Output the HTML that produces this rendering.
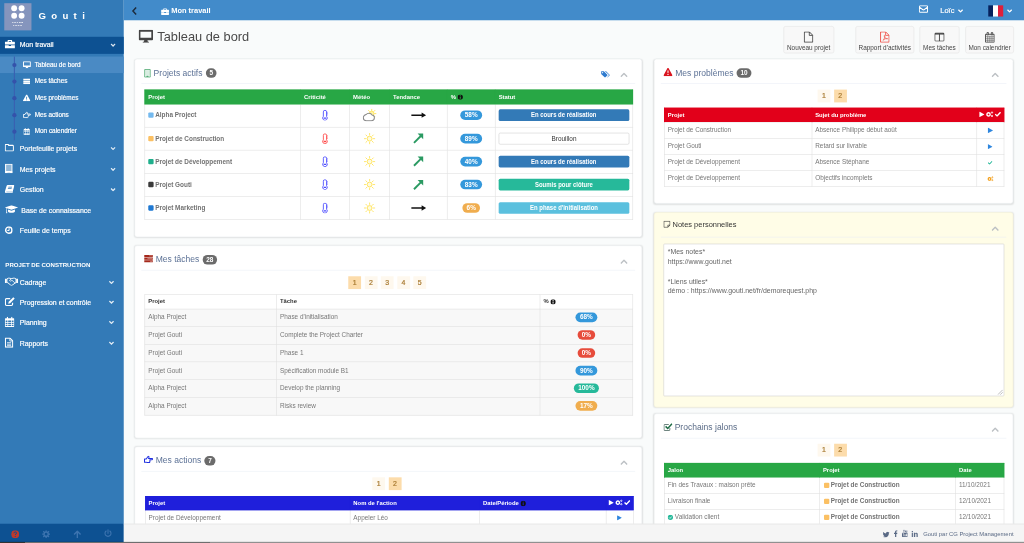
<!DOCTYPE html><html><head><meta charset="utf-8"><title>Gouti</title><style>
*{box-sizing:border-box;margin:0;padding:0}
html,body{width:1024px;height:543px;overflow:hidden;background:#f9fbfb}
body{font-family:"Liberation Sans",sans-serif;}
#root{filter:opacity(1);position:absolute;left:0;top:0;width:1920px;height:1018px;transform:scale(0.533333);transform-origin:0 0;font-size:13px;color:#555;overflow:hidden;background:#f9fbfb}
.ic{display:inline-block;vertical-align:middle;flex:none}
.abs{position:absolute}
#side{position:absolute;left:0;top:0;width:232px;height:1018px;background:#337ab7;color:#fff;-webkit-text-stroke:.35px}
#logo{position:absolute;left:8px;top:6px;width:51px;height:51px;background:#8595bd}
#logo i{position:absolute;width:11px;height:11px;border-radius:50%;background:#fff}
#brand{position:absolute;left:72px;top:16px;font-size:18px;font-weight:bold;letter-spacing:10px;color:#fff;line-height:26px}
.mi{position:absolute;left:0;width:232px;height:32px;font-size:13px;color:#fff;line-height:32px}
.mi .t{position:absolute;left:37px;top:0;white-space:nowrap}
.mi .i{position:absolute;left:9px;top:-2px;height:32px;display:flex;align-items:center}
.mi .c{position:absolute;left:207px;top:0;height:32px;display:flex;align-items:center;color:rgba(255,255,255,.85)}
.mi.act{background:#0d5192}
.si{position:absolute;left:0;width:232px;height:31px;font-size:12px;color:#fff;line-height:31px}
.si .t{position:absolute;left:65px;white-space:nowrap}
.si .i{position:absolute;left:42px;top:0;width:16px;height:31px;display:flex;align-items:center;justify-content:center}
.si .d{position:absolute;left:23px;top:12px;width:8px;height:8px;border-radius:50%;background:#3452aa;z-index:3}
.si.act{background:#4a8ac4}
#vline{position:absolute;left:26.300px;top:106px;width:1.300px;height:157px;background:#3a5fb0;z-index:2}
#sfoot{position:absolute;left:0;top:981.500px;width:232px;height:37px;background:#0d5192}
#top{position:absolute;left:232px;top:0;width:1688px;height:38px;background:#428bca;color:#fff;-webkit-text-stroke:.3px}
#title{position:absolute;left:260px;top:52px;height:32px;font-size:24px;color:#4a4a4a;line-height:32px;white-space:nowrap;display:flex;align-items:center}
.btn{position:absolute;top:49.300px;height:51px;border:1px solid #e2e2e2;border-radius:4px;background:#f8f8f8;font-size:12px;color:#444;text-align:center;white-space:nowrap}
.btn .bi{position:absolute;left:0;right:0;top:8.500px;height:22px;display:flex;justify-content:center;align-items:center}
.btn .bt{position:absolute;left:0;right:0;top:31.300px;line-height:16px}
.panel{position:absolute;background:#fff;border:1px solid #e4e8ea;border-radius:5px;box-shadow:0 1px 3px rgba(0,0,0,.10)}
.ph{position:absolute;left:12px;right:12px;top:0;height:46px;border-bottom:1px solid #e8edf5;font-size:16px;color:#5d7296;white-space:nowrap}
.ph .pt{position:absolute;left:5px;top:8px;height:36px;display:flex;align-items:center}
.badge{display:inline-block;background:#6b6b6b;color:#fff;font-size:12px;font-weight:bold;border-radius:10px;padding:0 7px;height:18px;line-height:18px;margin-left:6px}
.ph .cu{position:absolute;right:14px;top:20px;color:#bcc0c4}
table{--hh:27px;background-repeat:no-repeat !important;background-origin:border-box !important;border-collapse:collapse;position:absolute;table-layout:fixed;font-size:12px;color:#777}
td,th{border:1px solid #ddd;padding:0 8px 1px 6px;text-align:left;white-space:nowrap;overflow:hidden;vertical-align:middle}
th{font-size:11px;font-weight:bold;color:#fff}
th,.pb,.st,.badge,.bd,#brand{-webkit-text-stroke:0}
.bd{font-weight:bold;color:#727272}
.g{background:linear-gradient(#28a745 0 var(--hh),transparent var(--hh))}.g th{border-color:#28a745}
.r{background:linear-gradient(#e2001a 0 var(--hh),transparent var(--hh))}.r th{border-color:#e2001a;border-bottom-color:#e6e6e6}
.b{background:linear-gradient(#1f1fdb 0 var(--hh),transparent var(--hh))}.b th{border-color:#1f1fdb}
.w{background:linear-gradient(#fff 0 var(--hh),#f8f8f8 var(--hh))}.w th{color:#333;border-color:#ddd}
.sq{display:inline-block;width:10px;height:10px;vertical-align:-1px;margin-right:3px;border-radius:2px}
.pb{display:inline-block;height:18px;line-height:18px;border-radius:10px;color:#fff;font-size:12px;font-weight:bold;padding:0 8px;text-align:center}
.st{display:block;height:22px;line-height:23.500px;border-radius:3px;color:#fff;font-size:11px;font-weight:bold;text-align:center;margin:0 -2px 0 0}
.pg{position:absolute;height:24px;display:flex;gap:6.500px}
.pg span{display:block;width:24px;height:24px;line-height:24px;text-align:center;font-size:13px;color:#a87a30;-webkit-text-stroke:.4px;background:#fef8ee}
.pg span.on{background:#fcdcab}
.c{text-align:center;padding:0 0 1px 0}
.c>.ic{display:block;margin:0 auto}
#foot{position:absolute;left:232px;top:981.500px;width:1688px;height:37px;background:#f5f5f5;border-top:1px solid #ddd;font-size:11px;color:#5a6a85}
</style></head><body><div id="root">
<div id="side">
<div id="logo"><i style="left:13px;top:4px"></i><i style="left:27px;top:4px"></i><i style="left:13px;top:17.500px"></i><i style="left:27px;top:17.500px"></i><div style="position:absolute;left:0;width:51px;top:33px;font-size:4px;line-height:6px;letter-spacing:1.600px;color:#fff;text-align:center;font-weight:bold;opacity:.8">VOTRE<br>LOGO</div></div>
<div id="brand">Gouti</div>
<div class="mi act" style="top:68.5px"><span class="i"><svg class="ic" viewBox="0 0 18 16" width="19" height="17" ><path fill="currentColor" fill-rule="evenodd" d="M6 1h6a1 1 0 0 1 1 1v2h4a1 1 0 0 1 1 1v4H0V5a1 1 0 0 1 1-1h4V2a1 1 0 0 1 1-1zm1 1.5V4h4V2.500zM0 10h7v1.500h4V10h7v5a1 1 0 0 1-1 1H1a1 1 0 0 1-1-1z"/></svg></span><span class="t" style="left:37px">Mon travail</span><span class="c" style="left:207px"><svg class="ic" viewBox="0 0 11 8" width="10" height="7" ><path fill="none" stroke="currentColor" stroke-width="2.700" d="M1 1.500l4.500 4.500 4.500-4.500"/></svg></span></div>
<div id="vline"></div>
<div class="si act" style="top:106px"><span class="d"></span><span class="i"><svg class="ic" viewBox="0 0 18 16" width="15" height="13" ><path fill="currentColor" fill-rule="evenodd" d="M1.300 0h15.400a1.300 1.300 0 0 1 1.300 1.300v10.400a1.300 1.300 0 0 1-1.300 1.300H11l.5 1.800h1.300V16H5.200v-1.200h1.300L7 13H1.300A1.300 1.300 0 0 1 0 11.700V1.300A1.300 1.300 0 0 1 1.300 0zm.900 2.200v7.600h13.600V2.200z"/></svg></span><span class="t">Tableau de bord</span></div>
<div class="si" style="top:137.2px"><span class="d"></span><span class="i"><svg class="ic" viewBox="0 0 16 14" width="14" height="11" ><path fill="currentColor" d="M0 0h16v4H0zM0 5h16v4H0zM0 10h16v4H0z"/><path fill="#fff" fill-opacity=".45" d="M9 1h6v1.500H9zM6 6.200h9v1.500H6zM11 11.400h4v1.500h-4z"/></svg></span><span class="t">Mes tâches</span></div>
<div class="si" style="top:168.4px"><span class="d"></span><span class="i"><svg class="ic" viewBox="0 0 16 15" width="14" height="13" ><path fill="currentColor" fill-rule="evenodd" d="M8 0.300c.5 0 .9.300 1.100.700l6.700 12.200c.4.800-.1 1.800-1.100 1.800H1.300c-1 0-1.500-1-1.100-1.800L6.900 1C7.100.600 7.500.300 8 .300zM7 5l.3 4.800h1.400L9 5zm0 6v1.800h2V11z"/></svg></span><span class="t">Mes problèmes</span></div>
<div class="si" style="top:199.6px"><span class="d"></span><span class="i"><svg class="ic" viewBox="0 0 18 15" width="15" height="13" ><path fill="none" stroke="currentColor" stroke-width="2" stroke-linejoin="round" d="M1 6.500h3.500l3-4.500c.4-.6 1.300-.9 1.900-.5.700.4.600 1.300.400 2l-.8 2H16c.7 0 1.200.6 1.200 1.200s-.5 1.300-1.200 1.300h-4.500c.9.300.9 1.700 0 2 .7.400.6 1.700-.2 1.900.4.600.1 1.600-.8 1.600H6.500c-.8 0-1.300-.5-2-.5H1z"/></svg></span><span class="t">Mes actions</span></div>
<div class="si" style="top:230.8px"><span class="d"></span><span class="i"><svg class="ic" viewBox="0 0 14 15" width="12" height="13" ><path fill="currentColor" fill-rule="evenodd" d="M3 0h1.600v2h4.800V0H11v2h2a1 1 0 0 1 1 1v11a1 1 0 0 1-1 1H1a1 1 0 0 1-1-1V3a1 1 0 0 1 1-1h2zM1.200 5.500v2.200h2.600V5.500zm3.700 0v2.200h4.200V5.500zm5.300 0v2.200h2.600V5.500zm-9 3.200V11h2.600V8.700zm3.700 0V11h4.200V8.700zm5.300 0V11h2.600V8.700zm-9 3.300v1.800h2.600V12zm3.700 0v1.800h4.200V12zm5.300 0v1.800h2.600V12z"/></svg></span><span class="t">Mon calendrier</span></div>
<div class="mi" style="top:263px"><span class="i"><svg class="ic" viewBox="0 0 17 14" width="17" height="14" ><path fill="none" stroke="currentColor" stroke-width="2" stroke-linejoin="round" d="M.8 2.200c0-.8.600-1.400 1.400-1.400h3.600c.8 0 1.400.6 1.400 1.400v.4h7.600c.8 0 1.400.6 1.400 1.400v7.800c0 .8-.6 1.400-1.400 1.400H2.200c-.8 0-1.400-.6-1.400-1.400z"/></svg></span><span class="t" style="left:37px">Portefeuille projets</span><span class="c" style="left:207px"><svg class="ic" viewBox="0 0 11 8" width="10" height="7" ><path fill="none" stroke="currentColor" stroke-width="2.700" d="M1 1.500l4.500 4.500 4.500-4.500"/></svg></span></div>
<div class="mi" style="top:302px"><span class="i"><svg class="ic" viewBox="0 0 15 18" width="15" height="18" ><path fill="currentColor" fill-opacity=".45" stroke="currentColor" stroke-width="2" d="M1.500 1h12v16h-12z"/><path fill="currentColor" d="M1 13.500h13V17.500h-4v-2H5v2H1z"/></svg></span><span class="t" style="left:37px">Mes projets</span><span class="c" style="left:207px"><svg class="ic" viewBox="0 0 11 8" width="10" height="7" ><path fill="none" stroke="currentColor" stroke-width="2.700" d="M1 1.500l4.500 4.500 4.500-4.500"/></svg></span></div>
<div class="mi" style="top:340px"><span class="i"><svg class="ic" viewBox="0 0 18 15" width="18" height="15" ><path fill="currentColor" d="M5.500 0H17c.7 0 1.100.6.900 1.300L15 11.500c-.2.700-.9 1.200-1.600 1.200H3.200c-.5 0-.6.900 0 .9h10.600l.9-1.500c.4 0 .5.400.4.700l-.7 1.600c-.2.400-.6.600-1 .6H2.500c-1.800 0-2.700-1.600-2.300-3L3.300 1.600C3.600.600 4.500 0 5.500 0z"/><path fill="#337ab7" d="M6.800 3.200h7l-.4 1.300h-7zM6 6h7l-.4 1.300h-7z"/></svg></span><span class="t" style="left:37px">Gestion</span><span class="c" style="left:207px"><svg class="ic" viewBox="0 0 11 8" width="10" height="7" ><path fill="none" stroke="currentColor" stroke-width="2.700" d="M1 1.500l4.500 4.500 4.500-4.500"/></svg></span></div>
<div class="mi" style="top:379px"><span class="i"><svg class="ic" viewBox="0 0 25 16" width="25" height="16" ><path fill="currentColor" d="M12.500 0L25 4.200 12.500 8.400 4 5.500v3.800c.5.300.5 1 .1 1.300l.6 4.400H2.400L3 10.600c-.5-.3-.4-1 0-1.300V5.200L0 4.200z"/><path fill="currentColor" d="M6 8l6.500 2.200L19 8v3.500c0 1.500-3 2.600-6.500 2.600S6 13 6 11.500z"/></svg></span><span class="t" style="left:40px">Base de connaissance</span></div>
<div class="mi" style="top:417px"><span class="i"><svg class="ic" viewBox="0 0 16 16" width="15" height="15" ><circle cx="8" cy="8" r="6.300" fill="none" stroke="currentColor" stroke-width="2.800"/><path fill="none" stroke="currentColor" stroke-width="2" d="M8.600 4v4.800H5"/></svg></span><span class="t" style="left:37px">Feuille de temps</span></div>
<div class="abs" style="left:10px;top:487px;font-size:11.400px;font-weight:bold;-webkit-text-stroke:0;color:#fff;line-height:18px;white-space:nowrap">PROJET DE CONSTRUCTION</div>
<div class="mi" style="top:514px"><span class="i"><svg class="ic" viewBox="0 0 25 16" width="25" height="16" ><path fill="none" stroke="currentColor" stroke-width="1.800" stroke-linejoin="round" d="M4 3l3.500-1.800 5 1.200 5-1.200L21 3v7l-2 1-5.500 4c-1 .6-2 .2-2.500-.5L5.500 10 4 10z"/><path fill="none" stroke="currentColor" stroke-width="1.500" d="M12.500 2.500L9 5.500c0 1.500 2 2 3 1l1.500-1 5.500 5"/><path fill="currentColor" d="M0 2.500h3.600v8.300H0zM21.400 2.500H25v8.300h-3.600z"/></svg></span><span class="t" style="left:37px">Cadrage</span><span class="c" style="left:203.5px"><svg class="ic" viewBox="0 0 11 8" width="10" height="7" ><path fill="none" stroke="currentColor" stroke-width="2.700" d="M1 1.500l4.500 4.500 4.500-4.500"/></svg></span></div>
<div class="mi" style="top:551px"><span class="i"><svg class="ic" viewBox="0 0 17 15" width="19" height="17" ><path fill="none" stroke="currentColor" stroke-width="2" stroke-linejoin="round" d="M13 9.500V12c0 1.100-.9 2-2 2H3c-1.100 0-2-.9-2-2V4.500c0-1.100.9-2 2-2h6"/><path fill="currentColor" d="M14.200 0l2.500 2.500L9 10.200l-3.300.8.800-3.300z"/></svg></span><span class="t" style="left:37px">Progression et contrôle</span><span class="c" style="left:203.5px"><svg class="ic" viewBox="0 0 11 8" width="10" height="7" ><path fill="none" stroke="currentColor" stroke-width="2.700" d="M1 1.500l4.500 4.500 4.500-4.500"/></svg></span></div>
<div class="mi" style="top:589px"><span class="i"><svg class="ic" viewBox="0 0 14 15" width="18" height="19" ><path fill="currentColor" fill-rule="evenodd" d="M3 0h1.600v2h4.800V0H11v2h2a1 1 0 0 1 1 1v11a1 1 0 0 1-1 1H1a1 1 0 0 1-1-1V3a1 1 0 0 1 1-1h2zM1.200 5.500v2.200h2.600V5.500zm3.700 0v2.200h4.200V5.500zm5.300 0v2.200h2.600V5.500zm-9 3.200V11h2.600V8.700zm3.700 0V11h4.200V8.700zm5.300 0V11h2.600V8.700zm-9 3.300v1.800h2.600V12zm3.700 0v1.800h4.200V12zm5.300 0v1.800h2.600V12z"/></svg></span><span class="t" style="left:37px">Planning</span><span class="c" style="left:203.5px"><svg class="ic" viewBox="0 0 11 8" width="10" height="7" ><path fill="none" stroke="currentColor" stroke-width="2.700" d="M1 1.500l4.500 4.500 4.500-4.500"/></svg></span></div>
<div class="mi" style="top:628px"><span class="i"><svg class="ic" viewBox="0 0 14 17" width="16" height="19" ><path fill="none" stroke="currentColor" stroke-width="2" stroke-linejoin="round" d="M.9.900h7.600l4.600 4.600v10.600H.9z"/><path fill="none" stroke="currentColor" stroke-width="1.300" d="M8.300 1v4.800h4.800M3.500 8.500h7M3.500 11h7M3.500 13.500h7"/></svg></span><span class="t" style="left:37px">Rapports</span><span class="c" style="left:203.5px"><svg class="ic" viewBox="0 0 11 8" width="10" height="7" ><path fill="none" stroke="currentColor" stroke-width="2.700" d="M1 1.500l4.500 4.500 4.500-4.500"/></svg></span></div>
<div id="sfoot">
<span class="abs" style="left:21px;top:11px;color:#c0392b"><svg class="ic" viewBox="0 0 16 16" width="15" height="15" ><circle cx="8" cy="8" r="8" fill="currentColor"/><path fill="none" stroke="#0d5192" stroke-width="2" d="M5.300 6.200c0-1.600 1.200-2.600 2.800-2.600 1.500 0 2.700 1 2.700 2.300 0 1.700-2.600 1.800-2.600 3.800"/><circle cx="8.100" cy="12.300" r="1.200" fill="#0d5192"/></svg></span>
<span class="abs" style="left:79px;top:11px;color:#3d74b0"><svg class="ic" viewBox="0 0 16 16" width="15" height="15" ><circle cx="8" cy="8" r="4.300" fill="none" stroke="currentColor" stroke-width="3"/><path stroke="currentColor" stroke-width="2.600" d="M8 0v3M8 13v3M0 8h3M13 8h3M2.300 2.300l2.200 2.200M11.500 11.500l2.200 2.200M2.300 13.700l2.200-2.200M11.500 4.500l2.200-2.200"/></svg></span>
<span class="abs" style="left:137px;top:11px;color:#3d74b0"><svg class="ic" viewBox="0 0 16 16" width="16" height="15" ><path fill="none" stroke="currentColor" stroke-width="2.800" stroke-linejoin="miter" d="M8 16V3M1.500 8.500L8 2l6.500 6.500"/></svg></span>
<span class="abs" style="left:195px;top:10px;color:#3d74b0"><svg class="ic" viewBox="0 0 16 16" width="15" height="16" ><path fill="none" stroke="currentColor" stroke-width="2.200" stroke-linecap="round" d="M8 1v7M4.300 3.300a6 6 0 1 0 7.400 0"/></svg></span>
</div></div>
<div id="top">
<span class="abs" style="left:15px;top:12px;color:#1c2a3a"><svg class="ic" viewBox="0 0 10 16" width="10" height="15" ><path fill="none" stroke="currentColor" stroke-width="2.800" d="M8.500 1L2 8l6.500 7"/></svg></span>
<span class="abs" style="left:70px;top:13px;color:#fff"><svg class="ic" viewBox="0 0 18 16" width="15" height="13" ><path fill="currentColor" fill-rule="evenodd" d="M6 1h6a1 1 0 0 1 1 1v2h4a1 1 0 0 1 1 1v4H0V5a1 1 0 0 1 1-1h4V2a1 1 0 0 1 1-1zm1 1.5V4h4V2.500zM0 10h7v1.500h4V10h7v5a1 1 0 0 1-1 1H1a1 1 0 0 1-1-1z"/></svg></span>
<span class="abs" style="left:89px;top:11.400px;font-size:14px;font-weight:bold;-webkit-text-stroke:0;line-height:19px;white-space:nowrap">Mon travail</span>
<span class="abs" style="left:1491px;top:8px;color:#fff"><svg class="ic" viewBox="0 0 17 14" width="17" height="14" ><path fill="none" stroke="currentColor" stroke-width="1.900" stroke-linejoin="round" d="M.8 2.300c0-.8.700-1.500 1.500-1.500h12.400c.8 0 1.500.7 1.500 1.500v9.400c0 .8-.7 1.500-1.500 1.500H2.300c-.8 0-1.500-.7-1.500-1.500zM1 3.500l5.800 4.300c1 .8 2.400.8 3.400 0L16 3.500"/></svg></span>
<span class="abs" style="left:1531px;top:11px;font-size:14px;line-height:19px;white-space:nowrap">Loïc</span><span class="abs" style="left:1564px;top:11.500px"><svg class="ic" viewBox="0 0 11 8" width="10" height="7" ><path fill="none" stroke="currentColor" stroke-width="2.700" d="M1 1.500l4.500 4.500 4.500-4.500"/></svg></span>
<span class="abs" style="left:1621px;top:10px;width:28px;height:21px;background:linear-gradient(90deg,#06215c 0 33.300%,#fff 33.300% 66.600%,#e01f3a 66.600%)"></span>
<span class="abs" style="left:1656px;top:11.500px"><svg class="ic" viewBox="0 0 11 8" width="10" height="7" ><path fill="none" stroke="currentColor" stroke-width="2.700" d="M1 1.500l4.500 4.500 4.500-4.500"/></svg></span>
</div>
<div id="title"><span style="color:#444;display:flex;margin-right:8px"><svg class="ic" viewBox="0 0 18 16" width="27" height="24" ><path fill="currentColor" fill-rule="evenodd" d="M1.300 0h15.400a1.300 1.300 0 0 1 1.300 1.300v10.400a1.300 1.300 0 0 1-1.300 1.300H11l.5 1.800h1.300V16H5.200v-1.200h1.300L7 13H1.300A1.300 1.300 0 0 1 0 11.700V1.300A1.300 1.300 0 0 1 1.300 0zm.900 2.200v7.600h13.600V2.200z"/></svg></span>Tableau de bord</div>
<div class="btn" style="left:1469px;width:94.5px"><div class="bi"><svg class="ic" viewBox="0 0 16 19" width="18" height="21" ><path fill="none" stroke="#333" stroke-width="1.500" stroke-linejoin="round" d="M.8.800h8.700l5.700 5.700v11.700H.8z"/><path fill="none" stroke="#333" stroke-width="1.300" d="M9.300 1v5.700H15"/></svg></div><div class="bt">Nouveau projet</div></div>
<div class="btn" style="left:1604px;width:110px"><div class="bi"><svg class="ic" viewBox="0 0 16 19" width="18" height="21" ><path fill="none" stroke="#ee4a42" stroke-width="1.500" stroke-linejoin="round" d="M.8.800h8.700l5.700 5.700v11.700H.8z"/><path fill="none" stroke="#ee4a42" stroke-width="1.300" d="M9.300 1v5.700H15"/><path fill="none" stroke="#ee4a42" stroke-width="1.100" d="M5 15c2-2 3.500-5 3-8-.3-1.200-1.500-.5-1 1 .8 2.500 3 4.500 5 4.800 1.200.1 1-1.300-.3-1.200-2.500.3-5 1.500-6.700 3.400z"/></svg></div><div class="bt">Rapport d'activités</div></div>
<div class="btn" style="left:1724px;width:75px"><div class="bi"><svg class="ic" viewBox="0 0 19 17" width="19" height="17" ><path fill="none" stroke="#333" stroke-width="1.600" stroke-linejoin="round" d="M.8 2.500c0-.9.700-1.700 1.700-1.700h14c.9 0 1.700.7 1.700 1.700v12c0 .9-.7 1.700-1.700 1.700h-14c-.9 0-1.700-.7-1.700-1.700z"/><path stroke="#333" stroke-width="1.600" d="M9.500 3v13"/><path stroke="#333" stroke-width="2.600" d="M1 2.500h17"/></svg></div><div class="bt">Mes tâches</div></div>
<div class="btn" style="left:1810px;width:91px"><div class="bi"><svg class="ic" viewBox="0 0 18 20" width="18" height="20" ><path fill="none" stroke="#333" stroke-width="1.600" d="M.8 4.300h16.400v14.900H.8z"/><path fill="none" stroke="#444" stroke-width="1" d="M.8 8h16.400M.8 11.700h16.400M.8 15.400h16.400M5 8v11M9 8v11M13 8v11"/><path fill="#fff" stroke="#333" stroke-width="1.400" stroke-linejoin="round" d="M3.800.8h2.400v4.600H3.800zM11.800.8h2.400v4.600h-2.400z"/></svg></div><div class="bt">Mon calendrier</div></div>
<div class="panel" style="left:252px;top:110px;width:952px;height:335px"><div class="ph" style=""><div class="pt" style="top:8px"><span style="color:#2e9a57;display:flex"><svg class="ic" viewBox="0 0 15 18" width="13" height="17" ><path fill="#fff" stroke="currentColor" stroke-width="1.500" d="M1.500.8h12v16.400h-12z"/><path fill="currentColor" fill-opacity=".18" d="M3.200 2.500h8.600V13H3.200z"/><path fill="currentColor" d="M5.200 14.300h4.600v2.200H5.200z"/></svg></span><span style="margin-left:5px">Projets actifs</span><span class="badge">5</span></div><span class="abs" style="right:47px;top:19px;color:#2e7bcf"><svg class="ic" viewBox="0 0 18 14" width="17" height="13" ><path fill="currentColor" d="M0 .5h5.500l7 7c.5.500.5 1.200 0 1.700l-3.800 3.800c-.5.500-1.200.5-1.700 0L0 6z"/><path fill="currentColor" d="M7.500.5H10l7 7c.5.500.5 1.200 0 1.700L13.200 13c-.4.400-1 .5-1.500.2l3.300-3.500c.7-.7.7-1.800 0-2.500z"/><circle cx="3" cy="3.500" r="1.200" fill="#fff"/></svg></span><span class="cu"><svg class="ic" viewBox="0 0 14 9" width="14" height="9" ><path fill="none" stroke="currentColor" stroke-width="2.600" d="M1 8l6-6 6 6"/></svg></span></div>
<table class="g" style="--hh:26.500px;left:18px;top:57px;width:915px"><colgroup><col style="width:292px"><col style="width:92px"><col style="width:75px"><col style="width:108px"><col style="width:90px"><col style="width:258px"></colgroup>
<tr style="height:26.500px"><th>Projet</th><th>Criticité</th><th>Météo</th><th>Tendance</th><th>% <svg class="ic" viewBox="0 0 10 10" width="10" height="10" ><circle cx="5" cy="5" r="5" fill="#111"/><path stroke="#28a745" stroke-width="1.800" d="M5 4.300v4M5 1.600v1.800"/></svg></th><th>Statut</th></tr>
<tr style="height:43.350px"><td class="bd"><span class="sq" style="background:#74b9ee"></span>Alpha Project</td><td class="c"><svg class="ic" viewBox="0 0 13 20" width="13" height="20" ><path fill="#fff" stroke="#4a4aff" stroke-width="1.600" d="M3.300 3.800a3 3 0 0 1 6 0v8.400a4.300 4.300 0 1 1-6 0z"/><path stroke="#4a4aff" stroke-width="2.400" stroke-linecap="round" d="M4.800 15.300h3"/><path stroke="#4a4aff" stroke-width="1" d="M9.500 4.500h2.200M9.500 7h2.200M9.500 9.500h2.200"/></svg></td><td class="c"><svg class="ic" viewBox="0 0 26 24" width="26" height="24" ><path stroke="#ffe14d" stroke-width="1.600" stroke-linecap="round" d="M17 .6v2.800" transform="rotate(-90 17 9)"/><path stroke="#ffe14d" stroke-width="1.600" stroke-linecap="round" d="M17 .6v2.800" transform="rotate(-45 17 9)"/><path stroke="#ffe14d" stroke-width="1.600" stroke-linecap="round" d="M17 .6v2.800" transform="rotate(0 17 9)"/><path stroke="#ffe14d" stroke-width="1.600" stroke-linecap="round" d="M17 .6v2.800" transform="rotate(45 17 9)"/><path stroke="#ffe14d" stroke-width="1.600" stroke-linecap="round" d="M17 .6v2.800" transform="rotate(90 17 9)"/><path stroke="#ffe14d" stroke-width="1.600" stroke-linecap="round" d="M17 .6v2.800" transform="rotate(135 17 9)"/><circle cx="17" cy="9" r="4.300" fill="#fff4a8" stroke="#ffe14d" stroke-width="1.500"/><path fill="#fff" stroke="#8a8a8a" stroke-width="1.900" d="M6.800 22.300C3.500 22.300 1.200 20 1.200 17c0-3 2.300-5.500 5.300-6.300 1.200-1.700 3.200-2.500 5.400-2.500 2.700 0 4.900 1.400 5.800 3.600 2.700.3 4.300 2.300 4.300 4.900 0 3.100-2.300 5.600-5.600 5.600z"/></svg></td><td class="c"><svg class="ic" viewBox="0 0 28 12" width="28" height="12" ><path stroke="#111" stroke-width="2.800" d="M0 6h21"/><path fill="#111" d="M19.500 1L28 6l-8.500 5z"/></svg></td><td class="c"><span class="pb" style="background:#3498db">58%</span></td><td><span class="st" style="background:#337ab7"><span style="display:inline-block;font-size:12px;transform:scaleX(.93)">En cours de réalisation</span></span></td></tr>
<tr style="height:43.350px"><td class="bd"><span class="sq" style="background:#fbc063"></span>Projet de Construction</td><td class="c"><svg class="ic" viewBox="0 0 13 20" width="13" height="20" ><path fill="#fff" stroke="#ff4444" stroke-width="1.600" d="M3.300 3.800a3 3 0 0 1 6 0v8.400a4.300 4.300 0 1 1-6 0z"/><path stroke="#ff4444" stroke-width="2.400" stroke-linecap="round" d="M4.800 15.300h3"/><path stroke="#ff4444" stroke-width="1" d="M9.500 4.500h2.200M9.500 7h2.200M9.500 9.500h2.200"/></svg></td><td class="c"><svg class="ic" viewBox="0 0 22 22" width="22" height="22" ><circle cx="11" cy="11" r="4.500" fill="#fffbe0" stroke="#ffe14d" stroke-width="1.600"/><path stroke="#ffe14d" stroke-width="1.500" stroke-linecap="round" d="M11 1.200v3" transform="rotate(0 11 11)"/><path stroke="#ffe14d" stroke-width="1.500" stroke-linecap="round" d="M11 1.200v3" transform="rotate(45 11 11)"/><path stroke="#ffe14d" stroke-width="1.500" stroke-linecap="round" d="M11 1.200v3" transform="rotate(90 11 11)"/><path stroke="#ffe14d" stroke-width="1.500" stroke-linecap="round" d="M11 1.200v3" transform="rotate(135 11 11)"/><path stroke="#ffe14d" stroke-width="1.500" stroke-linecap="round" d="M11 1.200v3" transform="rotate(180 11 11)"/><path stroke="#ffe14d" stroke-width="1.500" stroke-linecap="round" d="M11 1.200v3" transform="rotate(225 11 11)"/><path stroke="#ffe14d" stroke-width="1.500" stroke-linecap="round" d="M11 1.200v3" transform="rotate(270 11 11)"/><path stroke="#ffe14d" stroke-width="1.500" stroke-linecap="round" d="M11 1.200v3" transform="rotate(315 11 11)"/></svg></td><td class="c"><svg class="ic" viewBox="0 0 21 21" width="21" height="21" ><path stroke="#2a9a62" stroke-width="3.600" d="M2.200 18.800L15.500 5.500"/><path fill="#2a9a62" d="M9 1.500H19.500V12z"/></svg></td><td class="c"><span class="pb" style="background:#3498db">89%</span></td><td><span class="st" style="background:#fff;border:1px solid #ccc;color:#333;font-weight:normal;font-size:12px;line-height:21.500px">Brouillon</span></td></tr>
<tr style="height:43.350px"><td class="bd"><span class="sq" style="background:#1faf8c"></span>Projet de Développement</td><td class="c"><svg class="ic" viewBox="0 0 13 20" width="13" height="20" ><path fill="#fff" stroke="#4a4aff" stroke-width="1.600" d="M3.300 3.800a3 3 0 0 1 6 0v8.400a4.300 4.300 0 1 1-6 0z"/><path stroke="#4a4aff" stroke-width="2.400" stroke-linecap="round" d="M4.800 15.300h3"/><path stroke="#4a4aff" stroke-width="1" d="M9.500 4.500h2.200M9.500 7h2.200M9.500 9.500h2.200"/></svg></td><td class="c"><svg class="ic" viewBox="0 0 22 22" width="22" height="22" ><circle cx="11" cy="11" r="4.500" fill="#fffbe0" stroke="#ffe14d" stroke-width="1.600"/><path stroke="#ffe14d" stroke-width="1.500" stroke-linecap="round" d="M11 1.200v3" transform="rotate(0 11 11)"/><path stroke="#ffe14d" stroke-width="1.500" stroke-linecap="round" d="M11 1.200v3" transform="rotate(45 11 11)"/><path stroke="#ffe14d" stroke-width="1.500" stroke-linecap="round" d="M11 1.200v3" transform="rotate(90 11 11)"/><path stroke="#ffe14d" stroke-width="1.500" stroke-linecap="round" d="M11 1.200v3" transform="rotate(135 11 11)"/><path stroke="#ffe14d" stroke-width="1.500" stroke-linecap="round" d="M11 1.200v3" transform="rotate(180 11 11)"/><path stroke="#ffe14d" stroke-width="1.500" stroke-linecap="round" d="M11 1.200v3" transform="rotate(225 11 11)"/><path stroke="#ffe14d" stroke-width="1.500" stroke-linecap="round" d="M11 1.200v3" transform="rotate(270 11 11)"/><path stroke="#ffe14d" stroke-width="1.500" stroke-linecap="round" d="M11 1.200v3" transform="rotate(315 11 11)"/></svg></td><td class="c"><svg class="ic" viewBox="0 0 21 21" width="21" height="21" ><path stroke="#2a9a62" stroke-width="3.600" d="M2.200 18.800L15.500 5.500"/><path fill="#2a9a62" d="M9 1.500H19.500V12z"/></svg></td><td class="c"><span class="pb" style="background:#3498db">40%</span></td><td><span class="st" style="background:#337ab7"><span style="display:inline-block;font-size:12px;transform:scaleX(.93)">En cours de réalisation</span></span></td></tr>
<tr style="height:43.350px"><td class="bd"><span class="sq" style="background:#3a3a3a"></span>Projet Gouti</td><td class="c"><svg class="ic" viewBox="0 0 13 20" width="13" height="20" ><path fill="#fff" stroke="#4a4aff" stroke-width="1.600" d="M3.300 3.800a3 3 0 0 1 6 0v8.400a4.300 4.300 0 1 1-6 0z"/><path stroke="#4a4aff" stroke-width="2.400" stroke-linecap="round" d="M4.800 15.300h3"/><path stroke="#4a4aff" stroke-width="1" d="M9.500 4.500h2.200M9.500 7h2.200M9.500 9.500h2.200"/></svg></td><td class="c"><svg class="ic" viewBox="0 0 22 22" width="22" height="22" ><circle cx="11" cy="11" r="4.500" fill="#fffbe0" stroke="#ffe14d" stroke-width="1.600"/><path stroke="#ffe14d" stroke-width="1.500" stroke-linecap="round" d="M11 1.200v3" transform="rotate(0 11 11)"/><path stroke="#ffe14d" stroke-width="1.500" stroke-linecap="round" d="M11 1.200v3" transform="rotate(45 11 11)"/><path stroke="#ffe14d" stroke-width="1.500" stroke-linecap="round" d="M11 1.200v3" transform="rotate(90 11 11)"/><path stroke="#ffe14d" stroke-width="1.500" stroke-linecap="round" d="M11 1.200v3" transform="rotate(135 11 11)"/><path stroke="#ffe14d" stroke-width="1.500" stroke-linecap="round" d="M11 1.200v3" transform="rotate(180 11 11)"/><path stroke="#ffe14d" stroke-width="1.500" stroke-linecap="round" d="M11 1.200v3" transform="rotate(225 11 11)"/><path stroke="#ffe14d" stroke-width="1.500" stroke-linecap="round" d="M11 1.200v3" transform="rotate(270 11 11)"/><path stroke="#ffe14d" stroke-width="1.500" stroke-linecap="round" d="M11 1.200v3" transform="rotate(315 11 11)"/></svg></td><td class="c"><svg class="ic" viewBox="0 0 21 21" width="21" height="21" ><path stroke="#2a9a62" stroke-width="3.600" d="M2.200 18.800L15.500 5.500"/><path fill="#2a9a62" d="M9 1.500H19.500V12z"/></svg></td><td class="c"><span class="pb" style="background:#3498db">83%</span></td><td><span class="st" style="background:#26b99a"><span style="display:inline-block;font-size:12px;transform:scaleX(.93)">Soumis pour clôture</span></span></td></tr>
<tr style="height:43.350px"><td class="bd"><span class="sq" style="background:#1e78d2"></span>Projet Marketing</td><td class="c"><svg class="ic" viewBox="0 0 13 20" width="13" height="20" ><path fill="#fff" stroke="#4a4aff" stroke-width="1.600" d="M3.300 3.800a3 3 0 0 1 6 0v8.400a4.300 4.300 0 1 1-6 0z"/><path stroke="#4a4aff" stroke-width="2.400" stroke-linecap="round" d="M4.800 15.300h3"/><path stroke="#4a4aff" stroke-width="1" d="M9.500 4.500h2.200M9.500 7h2.200M9.500 9.500h2.200"/></svg></td><td class="c"><svg class="ic" viewBox="0 0 22 22" width="22" height="22" ><circle cx="11" cy="11" r="4.500" fill="#fffbe0" stroke="#ffe14d" stroke-width="1.600"/><path stroke="#ffe14d" stroke-width="1.500" stroke-linecap="round" d="M11 1.200v3" transform="rotate(0 11 11)"/><path stroke="#ffe14d" stroke-width="1.500" stroke-linecap="round" d="M11 1.200v3" transform="rotate(45 11 11)"/><path stroke="#ffe14d" stroke-width="1.500" stroke-linecap="round" d="M11 1.200v3" transform="rotate(90 11 11)"/><path stroke="#ffe14d" stroke-width="1.500" stroke-linecap="round" d="M11 1.200v3" transform="rotate(135 11 11)"/><path stroke="#ffe14d" stroke-width="1.500" stroke-linecap="round" d="M11 1.200v3" transform="rotate(180 11 11)"/><path stroke="#ffe14d" stroke-width="1.500" stroke-linecap="round" d="M11 1.200v3" transform="rotate(225 11 11)"/><path stroke="#ffe14d" stroke-width="1.500" stroke-linecap="round" d="M11 1.200v3" transform="rotate(270 11 11)"/><path stroke="#ffe14d" stroke-width="1.500" stroke-linecap="round" d="M11 1.200v3" transform="rotate(315 11 11)"/></svg></td><td class="c"><svg class="ic" viewBox="0 0 28 12" width="28" height="12" ><path stroke="#111" stroke-width="2.800" d="M0 6h21"/><path fill="#111" d="M19.500 1L28 6l-8.500 5z"/></svg></td><td class="c"><span class="pb" style="background:#f0ad4e">6%</span></td><td><span class="st" style="background:#5bc0de"><span style="display:inline-block;font-size:12px;transform:scaleX(.93)">En phase d'initialisation</span></span></td></tr>
</table>
</div>
<div class="panel" style="left:252px;top:460px;width:952px;height:362px"><div class="ph" style=""><div class="pt" style="top:8px"><span style="color:#a5281b;display:flex;margin-top:-4px"><svg class="ic" viewBox="0 0 16 14" width="17" height="14" ><path fill="currentColor" d="M0 0h16v4H0zM0 5h16v4H0zM0 10h16v4H0z"/><path fill="#fff" fill-opacity=".45" d="M9 1h6v1.500H9zM6 6.200h9v1.500H6zM11 11.400h4v1.500h-4z"/></svg></span><span style="margin-left:5px">Mes tâches</span><span class="badge">28</span></div><span class="cu"><svg class="ic" viewBox="0 0 14 9" width="14" height="9" ><path fill="none" stroke="currentColor" stroke-width="2.600" d="M1 8l6-6 6 6"/></svg></span></div>
<div class="pg" style="left:400px;top:57px"><span class="on">1</span><span class="">2</span><span class="">3</span><span class="">4</span><span class="">5</span></div>
<table class="w" style="left:18px;top:90.700px;width:915px"><colgroup><col style="width:247px"><col style="width:494px"><col style="width:174px"></colgroup>
<tr style="height:27px"><th>Projet</th><th>Tâche</th><th>% <svg class="ic" viewBox="0 0 10 10" width="10" height="10" ><circle cx="5" cy="5" r="5" fill="#111"/><path stroke="#fff" stroke-width="1.800" d="M5 4.300v4M5 1.600v1.800"/></svg></th></tr>
<tr style="height:33.200px"><td>Alpha Project</td><td>Phase d'initialisation</td><td class="c"><span class="pb" style="background:#3498db">68%</span></td></tr>
<tr style="height:33.200px"><td>Projet Gouti</td><td>Complete the Project Charter</td><td class="c"><span class="pb" style="background:#e74c3c">0%</span></td></tr>
<tr style="height:33.200px"><td>Projet Gouti</td><td>Phase 1</td><td class="c"><span class="pb" style="background:#e74c3c">0%</span></td></tr>
<tr style="height:33.200px"><td>Projet Gouti</td><td>Spécification module B1</td><td class="c"><span class="pb" style="background:#3498db">90%</span></td></tr>
<tr style="height:33.200px"><td>Alpha Project</td><td>Develop the planning</td><td class="c"><span class="pb" style="background:#26b99a">100%</span></td></tr>
<tr style="height:33.200px"><td>Alpha Project</td><td>Risks review</td><td class="c"><span class="pb" style="background:#f0ad4e">17%</span></td></tr>
</table>
</div>
<div class="panel" style="left:252px;top:837px;width:952px;height:300px"><div class="ph" style=""><div class="pt" style="top:7.5px"><span style="color:#2030e0;display:flex;margin-top:-4px"><svg class="ic" viewBox="0 0 18 15" width="17" height="15" ><path fill="none" stroke="currentColor" stroke-width="2" stroke-linejoin="round" d="M1 6.500h3.500l3-4.500c.4-.6 1.300-.9 1.900-.5.700.4.600 1.300.400 2l-.8 2H16c.7 0 1.200.6 1.200 1.200s-.5 1.300-1.200 1.300h-4.500c.9.300.9 1.700 0 2 .7.400.6 1.700-.2 1.900.4.600.1 1.600-.8 1.600H6.500c-.8 0-1.300-.5-2-.5H1z"/></svg></span><span style="margin-left:5px">Mes actions</span><span class="badge">7</span></div><span class="cu"><svg class="ic" viewBox="0 0 14 9" width="14" height="9" ><path fill="none" stroke="currentColor" stroke-width="2.600" d="M1 8l6-6 6 6"/></svg></span></div>
<div class="pg" style="left:445px;top:57px"><span class="">1</span><span class="on">2</span></div>
<table class="b" style="--hh:26px;left:18.500px;top:92px;width:915px"><colgroup><col style="width:384px"><col style="width:243px"><col style="width:237px"><col style="width:51px"></colgroup>
<tr style="height:26px"><th>Projet</th><th>Nom de l'action</th><th>Date/Période <svg class="ic" viewBox="0 0 10 10" width="10" height="10" ><circle cx="5" cy="5" r="5" fill="#111"/><path stroke="#1f1fdb" stroke-width="1.800" d="M5 4.300v4M5 1.600v1.800"/></svg></th><th class="c"><span style="display:inline-flex;gap:2px;align-items:center"><svg class="ic" viewBox="0 0 9 10" width="10" height="11" ><path fill="currentColor" d="M0 0l9 5-9 5z"/></svg><svg class="ic" viewBox="0 0 14 12" width="15" height="12" ><circle cx="5" cy="6.500" r="3" fill="none" stroke="currentColor" stroke-width="2.600"/><circle cx="11.500" cy="3" r="1.300" fill="none" stroke="currentColor" stroke-width="1.600"/><circle cx="11.500" cy="9.500" r="1.300" fill="none" stroke="currentColor" stroke-width="1.600"/></svg><svg class="ic" viewBox="0 0 12 10" width="12" height="10" ><path fill="none" stroke="currentColor" stroke-width="2.600" d="M1 5l3.500 3.500L11 1.500"/></svg></span></th></tr>
<tr style="height:30px"><td>Projet de Développement</td><td>Appeler Léo</td><td></td><td class="c" style="color:#2e86de"><svg class="ic" viewBox="0 0 9 10" width="9" height="10" ><path fill="currentColor" d="M0 0l9 5-9 5z"/></svg></td></tr>
</table>
</div>
<div class="panel" style="left:1226px;top:110px;width:674px;height:272px"><div class="ph" style=""><div class="pt" style="top:8px"><span style="color:#d9141e;display:flex;margin-top:-4px"><svg class="ic" viewBox="0 0 16 15" width="17" height="16" ><path fill="currentColor" fill-rule="evenodd" d="M8 0.300c.5 0 .9.300 1.100.700l6.700 12.200c.4.800-.1 1.800-1.100 1.800H1.300c-1 0-1.500-1-1.100-1.800L6.900 1C7.100.600 7.500.300 8 .300zM7 5l.3 4.800h1.400L9 5zm0 6v1.800h2V11z"/></svg></span><span style="margin-left:5px">Mes problèmes</span><span class="badge">10</span></div><span class="cu"><svg class="ic" viewBox="0 0 14 9" width="14" height="9" ><path fill="none" stroke="currentColor" stroke-width="2.600" d="M1 8l6-6 6 6"/></svg></span></div>
<div class="pg" style="left:306px;top:57px"><span class="">1</span><span class="on">2</span></div>
<table class="r" style="--hh:26.300px;left:18px;top:90.600px;width:636.5px"><colgroup><col style="width:276.5px"><col style="width:309px"><col style="width:51px"></colgroup>
<tr style="height:27px"><th>Projet</th><th>Sujet du problème</th><th class="c"><span style="display:inline-flex;gap:2px;align-items:center"><svg class="ic" viewBox="0 0 9 10" width="10" height="11" ><path fill="currentColor" d="M0 0l9 5-9 5z"/></svg><svg class="ic" viewBox="0 0 14 12" width="15" height="12" ><circle cx="5" cy="6.500" r="3" fill="none" stroke="currentColor" stroke-width="2.600"/><circle cx="11.500" cy="3" r="1.300" fill="none" stroke="currentColor" stroke-width="1.600"/><circle cx="11.500" cy="9.500" r="1.300" fill="none" stroke="currentColor" stroke-width="1.600"/></svg><svg class="ic" viewBox="0 0 12 10" width="12" height="10" ><path fill="none" stroke="currentColor" stroke-width="2.600" d="M1 5l3.500 3.500L11 1.500"/></svg></span></th></tr>
<tr style="height:30.200px"><td>Projet de Construction</td><td>Absence Philippe début août</td><td class="c"><span style="color:#2e86de"><svg class="ic" viewBox="0 0 9 10" width="10" height="11" ><path fill="currentColor" d="M0 0l9 5-9 5z"/></svg></span></td></tr>
<tr style="height:30.200px"><td>Projet Gouti</td><td>Retard sur livrable</td><td class="c"><span style="color:#2e86de"><svg class="ic" viewBox="0 0 9 10" width="9" height="10" ><path fill="currentColor" d="M0 0l9 5-9 5z"/></svg></span></td></tr>
<tr style="height:30.200px"><td>Projet de Développement</td><td>Absence Stéphane</td><td class="c"><span style="color:#26b99a"><svg class="ic" viewBox="0 0 12 10" width="9" height="8" ><path fill="none" stroke="currentColor" stroke-width="2.600" d="M1 5l3.500 3.500L11 1.500"/></svg></span></td></tr>
<tr style="height:30.200px"><td>Projet de Développement</td><td>Objectifs incomplets</td><td class="c"><span style="color:#f39c12"><svg class="ic" viewBox="0 0 14 12" width="12" height="10" ><circle cx="5" cy="6.500" r="3" fill="none" stroke="currentColor" stroke-width="2.600"/><circle cx="11.500" cy="3" r="1.300" fill="none" stroke="currentColor" stroke-width="1.600"/><circle cx="11.500" cy="9.500" r="1.300" fill="none" stroke="currentColor" stroke-width="1.600"/></svg></span></td></tr>
</table>
</div>
<div class="panel" style="left:1226px;top:398px;width:674px;height:366px;background:#fffde7;border-color:#f4f0d6"><div class="ph" style="color:#333;font-size:14px;"><div class="pt" style="top:3px"><span style="color:#333;display:flex"><svg class="ic" viewBox="0 0 14 14" width="13" height="13" ><path fill="none" stroke="currentColor" stroke-width="1.500" stroke-linejoin="round" d="M.8.800h12.400v8l-4.400 4.400h-8z"/><path fill="none" stroke="currentColor" stroke-width="1.200" d="M8.800 13V8.800H13"/></svg></span><span style="margin-left:4px">Notes personnelles</span></div><span class="cu"><svg class="ic" viewBox="0 0 14 9" width="14" height="9" ><path fill="none" stroke="currentColor" stroke-width="2.600" d="M1 8l6-6 6 6"/></svg></span></div>
<div class="abs" style="left:17px;top:58px;width:639px;height:286px;background:#fff;border:1px solid #ccc;border-radius:2px;font-size:13px;line-height:18.500px;color:#666;padding:5px 7px;white-space:pre">*Mes notes*
https://www.gouti.net

*Liens utiles*
démo : https://www.gouti.net/fr/demorequest.php<svg style="position:absolute;right:1px;bottom:1px" width="11" height="11" viewBox="0 0 11 11"><path stroke="#888" stroke-width="1" d="M10 1L1 10M10 5.500L5.500 10"/></svg></div>
</div>
<div class="panel" style="left:1226px;top:775px;width:674px;height:300px"><div class="ph" style="color:#5b6c87;"><div class="pt" style="top:8px"><span style="display:flex;margin-top:-4px"><svg class="ic" viewBox="0 0 17 15" width="17" height="15" ><path fill="none" stroke="#6f8580" stroke-width="1.900" stroke-linejoin="round" d="M12 9.500v3c0 .8-.7 1.500-1.500 1.500h-8C1.700 14 1 13.300 1 12.500v-8C1 3.700 1.700 3 2.500 3H10"/><path fill="none" stroke="#1e6b45" stroke-width="2.800" d="M4 6.500L8 10.500 16 1.500"/></svg></span><span style="margin-left:4px">Prochains jalons</span></div><span class="cu"><svg class="ic" viewBox="0 0 14 9" width="14" height="9" ><path fill="none" stroke="currentColor" stroke-width="2.600" d="M1 8l6-6 6 6"/></svg></span></div>
<div class="pg" style="left:306px;top:55.5px"><span class="">1</span><span class="on">2</span></div>
<table class="g" style="left:18px;top:91.500px;width:637px"><colgroup><col style="width:291px"><col style="width:255px"><col style="width:91px"></colgroup>
<tr style="height:27px"><th>Jalon</th><th>Projet</th><th>Date</th></tr>
<tr style="height:30px"><td>Fin des Travaux : maison prête</td><td class="bd" style="padding-left:7.500px"><span class="sq" style="background:#fbc063"></span>Projet de Construction</td><td>11/10/2021</td></tr>
<tr style="height:30px"><td>Livraison finale</td><td class="bd" style="padding-left:7.500px"><span class="sq" style="background:#fbc063"></span>Projet de Construction</td><td>12/10/2021</td></tr>
<tr style="height:30px"><td><svg class="ic" viewBox="0 0 12 12" width="10" height="10" ><circle cx="6" cy="6" r="6" fill="#26b99a"/><path fill="none" stroke="#fff" stroke-width="1.700" d="M3 6.200l2.200 2.200L9 4.200"/></svg> Validation client</td><td class="bd" style="padding-left:7.500px"><span class="sq" style="background:#fbc063"></span>Projet de Construction</td><td>12/10/2021</td></tr>
</table>
</div>
<div id="foot">
<span class="abs" style="left:1422.500px;top:13px"><svg class="ic" viewBox="0 0 16 13" width="13" height="11" ><path fill="currentColor" d="M16 1.500c-.6.300-1.200.4-1.900.5.700-.4 1.200-1 1.400-1.800-.6.400-1.300.6-2.100.8C12.800.400 12 0 11.100 0 9.300 0 7.800 1.500 7.800 3.300c0 .3 0 .5.100.7C5.200 3.900 2.700 2.600 1.100.600c-.3.500-.4 1-.4 1.600 0 1.100.6 2.100 1.500 2.700-.5 0-1-.2-1.500-.4 0 1.600 1.100 2.900 2.600 3.200-.5.100-1 .2-1.500.1.400 1.300 1.600 2.200 3.100 2.300C3.500 11.100 1.800 11.600 0 11.400 1.500 12.400 3.200 13 5 13c6 0 9.300-5 9.300-9.300v-.4c.7-.5 1.200-1.100 1.700-1.800z"/></svg></span><span class="abs" style="left:1443.500px;top:11px"><svg class="ic" viewBox="0 0 8 15" width="7" height="13" ><path fill="currentColor" d="M5.200 15V8.200h2.300l.3-2.700H5.200V3.800c0-.8.200-1.300 1.300-1.300H8V.100C7.700.100 6.900 0 6 0 4 0 2.500 1.200 2.500 3.500v2H.200v2.700h2.300V15z"/></svg></span><span class="abs" style="left:1458.500px;top:10px"><svg class="ic" viewBox="0 0 12 15" width="11" height="14" ><path fill="currentColor" d="M1.500 6.500h9c.8 0 1.500.7 1.500 1.500v5.500c0 .8-.7 1.500-1.500 1.500h-9C.7 15 0 14.300 0 13.500V8c0-.8.700-1.500 1.500-1.500z"/><path fill="#f5f5f5" d="M1.500 8h3v.8h-1v4.700h-1V8.800h-1zM5.300 9.500h.9v3h.8v-3h.9v4h-2.600zM8.700 8h.9v1.800c.8-.8 1.700-.3 1.700.6v2.200c0 1-1 1.300-1.700.6v.3h-.9z"/><path fill="currentColor" d="M2.500 0h1l.7 2.200L4.900 0h1L4.700 3.500v2.200h-1V3.500zM6.200 2.300c0-1 1.900-1 1.900 0v2.400c0 1-1.900 1-1.900 0zM8.800 1.500h.9v3.300h.6V1.500h.9v4.200H8.800z"/></svg></span><span class="abs" style="left:1476.500px;top:11px"><svg class="ic" viewBox="0 0 14 14" width="12" height="12" ><path fill="currentColor" d="M.2 4.700h3V14h-3zM1.700 0a1.700 1.700 0 1 1 0 3.400 1.700 1.700 0 0 1 0-3.400zM5.200 4.700h2.900v1.300c.4-.8 1.400-1.500 2.900-1.500 3 0 3 2.300 3 4.400V14h-3V9.400c0-1.100 0-2.400-1.400-2.400s-1.400 1.200-1.400 2.400V14h-3z"/></svg></span>
<span class="abs" style="left:1499px;top:11px;line-height:15px;white-space:nowrap">Gouti par CG Project Management</span>
</div>
</div><div style="position:absolute;left:0;top:542px;width:1024px;height:1px;background:linear-gradient(90deg,#333 0 25px,#6e6e6e 25px 210px,#909090 210px)"></div><div style="position:absolute;left:0;top:541px;width:1024px;height:1px;background:rgba(0,0,0,.07)"></div></body></html>
